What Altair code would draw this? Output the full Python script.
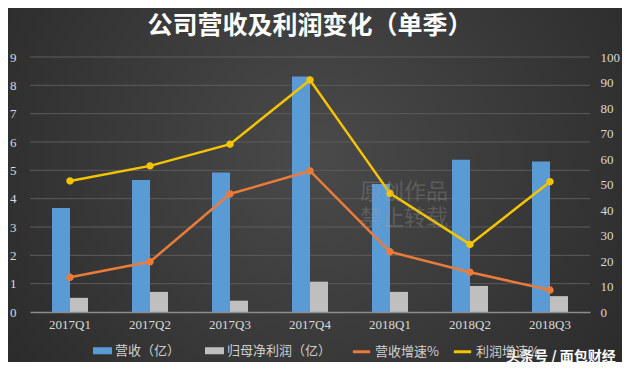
import altair as alt
import pandas as pd

quarters = ["2017Q1", "2017Q2", "2017Q3", "2017Q4", "2018Q1", "2018Q2", "2018Q3"]
revenue = [3.67, 4.66, 4.92, 8.31, 4.52, 5.37, 5.31]
profit = [0.50, 0.71, 0.40, 1.07, 0.71, 0.92, 0.56]
rev_growth = [13.6, 19.7, 46.3, 55.3, 23.6, 15.6, 8.6]
profit_growth = [51.4, 57.3, 65.8, 91.0, 46.5, 26.5, 51.1]
left_ticks = [0, 1, 2, 3, 4, 5, 6, 7, 8, 9]
right_ticks = [0, 10, 20, 30, 40, 50, 60, 70, 80, 90, 100]

bar_names = ["营收（亿）", "归母净利润（亿）"]
line_names = ["营收增速%", "利润增速%"]
bar_colors = ["#5B9BD5", "#BFBFBF"]
line_colors = ["#E97C3A", "#F5C400"]

title_text = "公司营收及利润变化（单季）"
source_text = "头条号 / 面包财经"
mark_text1 = "原创作品"
mark_text2 = "禁止转载"

bars_df = pd.DataFrame({
    "季度": quarters * 2,
    "系列": [bar_names[0]] * len(quarters) + [bar_names[1]] * len(quarters),
    "值": revenue + profit,
})
lines_df = pd.DataFrame({
    "季度": quarters * 2,
    "系列": [line_names[0]] * len(quarters) + [line_names[1]] * len(quarters),
    "值": rev_growth + profit_growth,
})
grid_df = pd.DataFrame({"值": left_ticks[1:]})

W, H = 560, 255
SERIF = "Liberation Serif"
CJK = "Noto Sans CJK SC"

x_scale = alt.Scale(domain=quarters, paddingInner=0.55, paddingOuter=0.275)
x_axis = alt.Axis(title=None, labelAngle=0, labelFont=SERIF, labelFontSize=13,
                  labelColor="#d9d9d9", domainColor="#8c8c8c", domainWidth=1.5,
                  ticks=False, labelPadding=6, grid=False, zindex=2)
x_enc = alt.X("季度:N", sort=quarters, scale=x_scale, axis=x_axis)

left_y = alt.Y("值:Q", scale=alt.Scale(domain=[0, 9], nice=False),
               axis=alt.Axis(title=None, orient="left", values=left_ticks, labelFont=SERIF,
                             labelFontSize=13, labelColor="#d9d9d9", domain=False, ticks=False,
                             labelPadding=14, grid=False, zindex=2))

one = pd.DataFrame({"a": [0]})

background = alt.Chart(one).mark_rect(
    fill={"gradient": "radial", "x1": 0.5, "y1": 0.45, "x2": 0.5, "y2": 0.45,
          "r1": 0, "r2": 0.75,
          "stops": [{"offset": 0, "color": "#4a4a4a"}, {"offset": 1, "color": "#242424"}]}
).encode(x=alt.value(-22), x2=alt.value(592), y=alt.value(-49), y2=alt.value(305))

grid = alt.Chart(grid_df).mark_rule(color="#5c5c5c", strokeWidth=1).encode(y=left_y)

bars = alt.Chart(bars_df).mark_bar().encode(
    x=x_enc,
    xOffset=alt.XOffset("系列:N", sort=bar_names,
                        scale=alt.Scale(domain=bar_names, paddingInner=0, paddingOuter=0)),
    y=left_y,
    fill=alt.Fill("系列:N", sort=bar_names,
                  scale=alt.Scale(domain=bar_names, range=bar_colors),
                  legend=alt.Legend(title=None, orient="none", legendX=63, legendY=284,
                                    direction="horizontal",
                                    symbolType="M-1,-0.37L1,-0.37L1,0.37L-1,0.37Z",
                                    symbolSize=361, symbolStrokeWidth=0,
                                    labelFont=CJK, labelFontSize=13, labelColor="#cfcfcf",
                                    labelOffset=3, columnPadding=24)),
)
bar_layer = alt.layer(grid, bars)

line_y = alt.Y("值:Q", scale=alt.Scale(domain=[0, 100], nice=False),
               axis=alt.Axis(title=None, orient="right", values=right_ticks,
                             labelFont=SERIF, labelFontSize=13, labelColor="#d9d9d9",
                             domain=False, ticks=False, labelPadding=10, grid=False, zindex=2))
line_stroke = alt.Stroke("系列:N", sort=line_names,
                         scale=alt.Scale(domain=line_names, range=line_colors),
                         legend=alt.Legend(title=None, orient="none", legendX=321, legendY=284,
                                           direction="horizontal", symbolType="stroke",
                                           symbolSize=300, symbolStrokeWidth=3,
                                           labelFont=CJK, labelFontSize=13, labelColor="#cfcfcf",
                                           labelOffset=3, columnPadding=8))

lines = alt.Chart(lines_df).mark_line(strokeWidth=2.5).encode(
    x=x_enc, y=line_y, stroke=line_stroke,
)
points = alt.Chart(lines_df).mark_point(shape="circle", size=12, strokeWidth=4, opacity=1).encode(
    x=x_enc, y=line_y, stroke=line_stroke,
)
line_layer = alt.layer(lines, points)

wm1 = alt.Chart(one).mark_text(text=mark_text1, font=CJK, fontSize=22, color="#9a9a9a",
                               opacity=0.3, align="left", baseline="middle").encode(
    x=alt.value(330), y=alt.value(135))
wm2 = alt.Chart(one).mark_text(text=mark_text2, font=CJK, fontSize=22, color="#9a9a9a",
                               opacity=0.3, align="left", baseline="middle").encode(
    x=alt.value(330), y=alt.value(161))
src = alt.Chart(one).mark_text(text=source_text, font=CJK, fontSize=14, fontWeight="bold",
                               color="#ffffff", align="left", baseline="middle").encode(
    x=alt.value(476), y=alt.value(300))

chart = alt.layer(background, bar_layer, line_layer, wm1, wm2, src).resolve_scale(
    y="independent"
).resolve_axis(y="independent").properties(
    width=W, height=H,
    title=alt.TitleParams(title_text, font=CJK, fontSize=25, fontWeight="bold",
                          color="#ffffff", anchor="middle", offset=-31),
    autosize=alt.AutoSizeParams(type="none"),
    padding={"left": 22, "top": 49, "right": 32, "bottom": 50},
).configure(background="#2c2c2c").configure_view(stroke=None)

chart.save("out.html", embed_options={"renderer": "svg", "actions": False})
